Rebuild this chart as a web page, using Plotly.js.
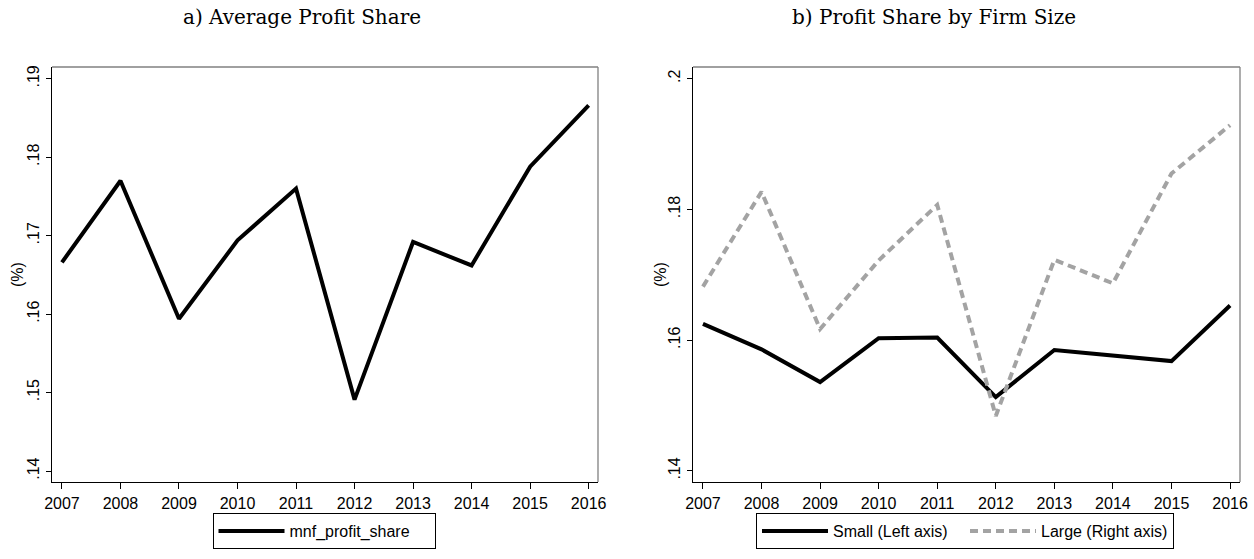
<!DOCTYPE html>
<html>
<head>
<meta charset="utf-8">
<script src="https://cdn.plot.ly/plotly-3.0.1.min.js"></script>
<style>html,body{margin:0;padding:0;background:#fff;}#chart{width:1254px;height:559px;}</style>
</head>
<body>
<div id="chart"></div>
<script>
// ---- data ----
const years = [2007, 2008, 2009, 2010, 2011, 2012, 2013, 2014, 2015, 2016];
const avgProfitShare = [0.1666, 0.1770, 0.1594, 0.1694, 0.1760, 0.1491, 0.1692, 0.1662, 0.1788, 0.1866];
const smallProfitShare = [0.1625, 0.1586, 0.1536, 0.1603, 0.1604, 0.1513, 0.1585, 0.1577, 0.1568, 0.1653];
const largeProfitShare = [0.1682, 0.1827, 0.1617, 0.1722, 0.1807, 0.1484, 0.1723, 0.1687, 0.1855, 0.1929];
const leftTickVals = [0.14, 0.15, 0.16, 0.17, 0.18, 0.19];
const leftTickText = ['.14', '.15', '.16', '.17', '.18', '.19'];
const rightTickVals = [0.14, 0.16, 0.18, 0.20];
const rightTickText = ['.14', '.16', '.18', '.2'];
const panelTitles = ['a) Average Profit Share', 'b) Profit Share by Firm Size'];
const seriesNames = ['mnf_profit_share', 'Small (Left axis)', 'Large (Right axis)'];

const W = 1254, H = 559;
const px = v => v / W, py = v => 1 - v / H;

const traces = [
  {x: years, y: avgProfitShare, name: seriesNames[0], type: 'scatter', mode: 'lines',
   line: {color: '#000', width: 4}, xaxis: 'x', yaxis: 'y', legend: 'legend'},
  {x: years, y: smallProfitShare, name: seriesNames[1], type: 'scatter', mode: 'lines',
   line: {color: '#000', width: 4}, xaxis: 'x2', yaxis: 'y2', legend: 'legend2'},
  {x: years, y: largeProfitShare, name: seriesNames[2], type: 'scatter', mode: 'lines',
   line: {color: '#a3a3a3', width: 4, dash: '8px,5px'}, xaxis: 'x2', yaxis: 'y3', legend: 'legend2'}
];

const xCommon = {
  tickvals: years, ticks: 'outside', ticklen: 6, tickcolor: '#000', tickwidth: 1,
  showline: true, linecolor: '#000', linewidth: 1.3, showgrid: false, zeroline: false,
  tickfont: {size: 16, color: '#000'}, fixedrange: true
};
const yCommon = {
  tickangle: -90, ticks: 'outside', ticklen: 5, tickcolor: '#000', tickwidth: 1,
  showline: true, linecolor: '#000', linewidth: 1.3, showgrid: false, zeroline: false,
  tickfont: {size: 16, color: '#000'}, fixedrange: true
};
const yDomain = [py(482), py(67)];

const legendCommon = {
  orientation: 'h', yanchor: 'top', xanchor: 'center', y: py(513),
  bordercolor: '#000', borderwidth: 1, bgcolor: '#fff',
  font: {size: 16, color: '#000'}, itemwidth: 66
};

const frameLine = {type: 'line', line: {color: '#808080', width: 1.3}};

const layout = {
  width: W, height: H,
  margin: {l: 0, r: 0, t: 0, b: 0},
  paper_bgcolor: '#fff', plot_bgcolor: '#fff',
  font: {family: 'Liberation Sans, Arial, sans-serif', size: 16, color: '#000'},
  showlegend: true,
  xaxis: Object.assign({}, xCommon, {domain: [px(52), px(598)], range: [2006.83, 2016.16], anchor: 'y'}),
  yaxis: Object.assign({}, yCommon, {domain: yDomain, range: [0.1386, 0.1915], tickvals: leftTickVals, ticktext: leftTickText, anchor: 'x'}),
  xaxis2: Object.assign({}, xCommon, {domain: [px(693), px(1240)], range: [2006.83, 2016.17], anchor: 'y2'}),
  yaxis2: Object.assign({}, yCommon, {domain: yDomain, range: [0.1383, 0.2018], tickvals: rightTickVals, ticktext: rightTickText, anchor: 'x2'}),
  yaxis3: {overlaying: 'y2', anchor: 'x2', range: [0.1383, 0.2018], visible: false, side: 'right', fixedrange: true},
  legend: Object.assign({}, legendCommon, {x: px(324), entrywidth: 140}),
  legend2: Object.assign({}, legendCommon, {x: px(965), entrywidth: 127}),
  annotations: [
    {text: panelTitles[0], xref: 'paper', yref: 'paper', x: px(302), y: py(17), showarrow: false,
     xanchor: 'center', yanchor: 'middle', font: {family: 'DejaVu Serif, serif', size: 20, color: '#000'}},
    {text: panelTitles[1], xref: 'paper', yref: 'paper', x: px(934), y: py(17), showarrow: false,
     xanchor: 'center', yanchor: 'middle', font: {family: 'DejaVu Serif, serif', size: 20, color: '#000'}},
    {text: '(%)', xref: 'paper', yref: 'paper', x: px(17), y: py(275), showarrow: false, textangle: -90,
     xanchor: 'center', yanchor: 'middle', font: {size: 16, color: '#000'}},
    {text: '(%)', xref: 'paper', yref: 'paper', x: px(660), y: py(275), showarrow: false, textangle: -90,
     xanchor: 'center', yanchor: 'middle', font: {size: 16, color: '#000'}}
  ],
  shapes: [
    Object.assign({}, frameLine, {xref: 'x domain', yref: 'y domain', x0: 0, x1: 1, y0: 1, y1: 1}),
    Object.assign({}, frameLine, {xref: 'x domain', yref: 'y domain', x0: 1, x1: 1, y0: 0, y1: 1}),
    Object.assign({}, frameLine, {xref: 'x2 domain', yref: 'y2 domain', x0: 0, x1: 1, y0: 1, y1: 1}),
    Object.assign({}, frameLine, {xref: 'x2 domain', yref: 'y2 domain', x0: 1, x1: 1, y0: 0, y1: 1})
  ]
};

Plotly.newPlot('chart', traces, layout, {displayModeBar: false, staticPlot: true});
</script>
</body>
</html>
